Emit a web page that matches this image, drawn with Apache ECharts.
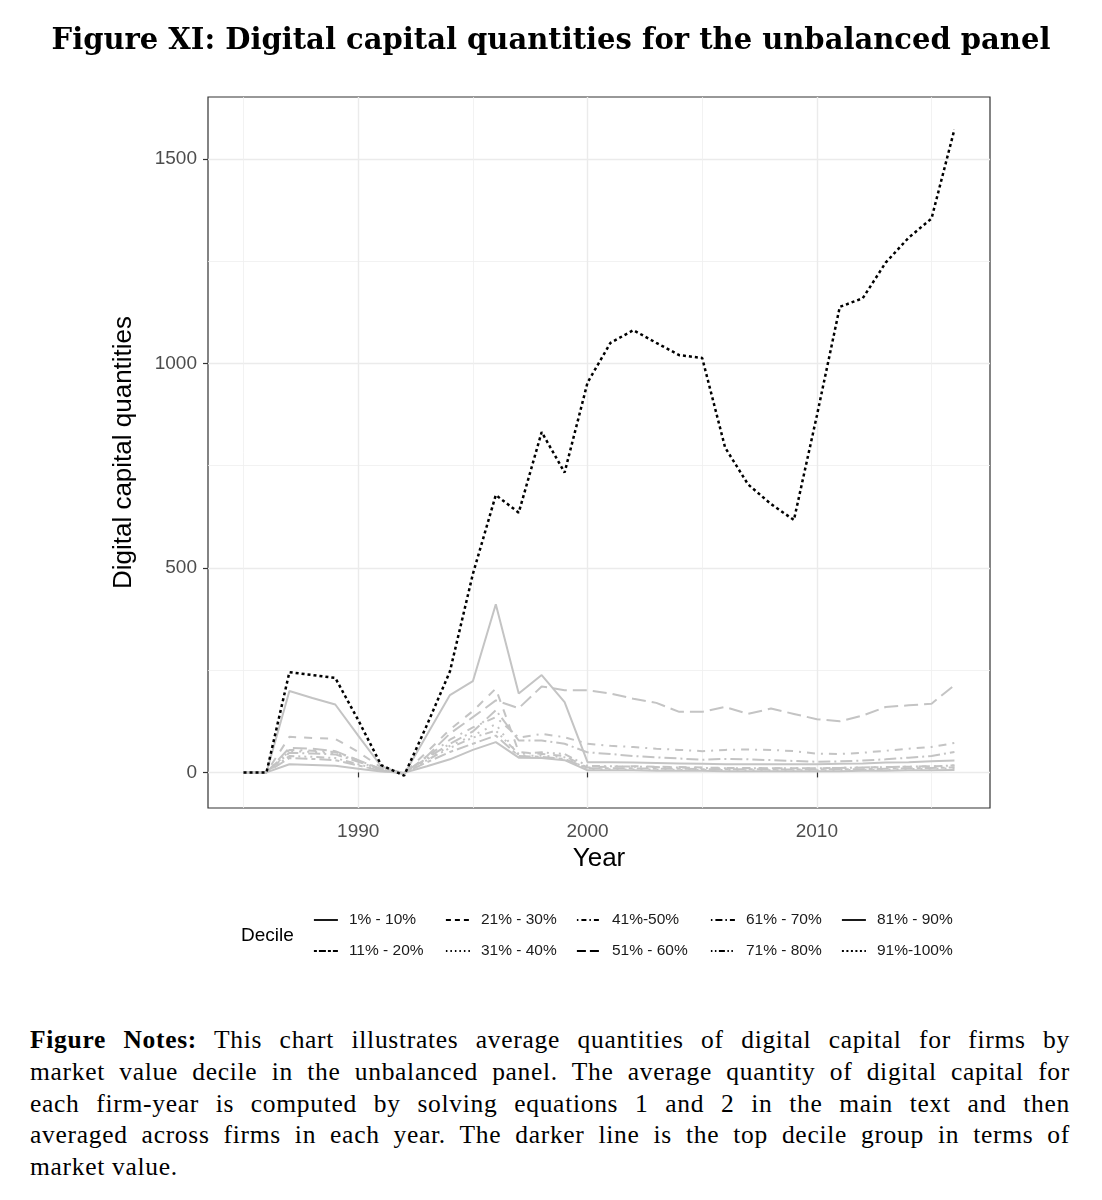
<!DOCTYPE html>
<html>
<head>
<meta charset="utf-8">
<title>Figure XI</title>
<script src="https://cdn.jsdelivr.net/npm/echarts@6/dist/echarts.min.js"></script>
<style>
  body { margin: 0; background: #fff; }
  #main { position: absolute; left: 0; top: 0; width: 1102px; height: 1000px; }
  #notes { position: absolute; left: 30px; top: 1024px; width: 1040px;
           font-family: 'Liberation Serif', serif; font-size: 25.5px; line-height: 31.8px;
           letter-spacing: 0.7px; color: #000; }
  #notes .j { text-align: justify; text-align-last: justify; white-space: nowrap; }
</style>
</head>
<body>
<div id="main"></div>
<div id="notes">
  <div class="j"><b>Figure Notes:</b> This chart illustrates average quantities of digital capital for firms by</div>
  <div class="j">market value decile in the unbalanced panel. The average quantity of digital capital for</div>
  <div class="j">each firm-year is computed by solving equations 1 and 2 in the main text and then</div>
  <div class="j">averaged across firms in each year. The darker line is the top decile group in terms of</div>
  <div>market value.</div>
</div>
<script type="text/javascript">
// data
var years = [1985, 1986, 1987, 1988, 1989, 1990, 1991, 1992, 1993, 1994, 1995, 1996, 1997, 1998, 1999, 2000,
             2001, 2002, 2003, 2004, 2005, 2006, 2007, 2008, 2009, 2010, 2011, 2012, 2013, 2014, 2015, 2016];
var deciles = ['1% - 10%', '11% - 20%', '21% - 30%', '31% - 40%', '41%-50%',
               '51% - 60%', '61% - 70%', '71% - 80%', '81% - 90%', '91%-100%'];
var d1  = [0, 0, 20, 18, 16, 9, 2, -1, 15, 32, 55, 74, 36, 35, 30, 5, 5, 5, 4, 4, 4, 3, 3, 3, 3, 3, 3, 4, 4, 5, 5, 6];
var d2  = [0, 0, 35, 33, 30, 17, 4, -2, 25, 50, 70, 90, 40, 38, 33, 10, 10, 10, 9, 9, 8, 8, 8, 7, 7, 7, 8, 8, 9, 10, 11, 12];
var d3  = [0, 0, 87, 84, 82, 50, 12, -2, 50, 105, 150, 205, 50, 45, 40, 12, 14, 15, 14, 13, 12, 11, 11, 10, 10, 10, 11, 12, 13, 14, 15, 17];
var d4  = [0, 0, 52, 50, 47, 28, 6, -2, 32, 65, 90, 118, 41, 41, 37, 8, 8, 7, 7, 6, 6, 6, 5, 5, 5, 5, 6, 6, 7, 8, 9, 10];
var d5  = [0, 0, 55, 53, 50, 30, 8, -2, 38, 80, 110, 135, 85, 94, 86, 70, 65, 62, 58, 55, 52, 55, 56, 55, 52, 46, 45, 48, 53, 58, 62, 72];
var d6  = [0, 0, 60, 58, 52, 30, 8, -3, 40, 95, 135, 176, 157, 210, 201, 201, 193, 180, 170, 148, 148, 160, 143, 156, 143, 130, 125, 139, 160, 164, 168, 213];
var d7  = [0, 0, 48, 46, 44, 26, 7, -2, 35, 70, 100, 152, 78, 78, 70, 49, 45, 40, 37, 34, 31, 33, 32, 30, 28, 26, 27, 29, 32, 36, 40, 50];
var d8  = [0, 0, 40, 38, 35, 20, 5, -2, 30, 60, 85, 102, 45, 49, 45, 16, 15, 14, 13, 12, 11, 10, 10, 10, 10, 10, 11, 12, 13, 14, 15, 17];
var d9  = [0, 0, 199, 182, 166, 90, 15, -5, 92, 189, 223, 411, 193, 238, 172, 25, 25, 24, 23, 22, 21, 20, 20, 20, 20, 20, 21, 22, 24, 25, 27, 29];
var d10 = [0, 0, 245, 238, 231, 128, 18, -8, 116, 247, 485, 678, 635, 832, 733, 953, 1050, 1081, 1050, 1020, 1013, 794, 704, 656, 617, 872, 1138, 1159, 1246, 1307, 1354, 1572];
var xTicks = [1990, 2000, 2010];
var xMinorTicks = [1985, 1995, 2005, 2015];
var yTicks = [0, 500, 1000, 1500];
var yMinorTicks = [250, 750, 1250];

var allData = [d1, d2, d3, d4, d5, d6, d7, d8, d9, d10];
// linetypes, roughly like the R ones
var dashes = ['solid', [4, 4, 12, 4], [8, 8], [2, 6], [2, 6, 8, 6], [14, 6],
              [2, 4, 12, 4], [2, 4, 2, 4, 2, 4, 8, 4], 'solid', [3, 3]];
var legendDashes = ['solid', [3, 2, 7, 2], [5, 4], [1.5, 3], [1.5, 3, 5, 3], [9, 4],
                    [1.5, 3, 7, 3], [1.5, 2.5, 1.5, 2.5, 6, 2.5], 'solid', [2, 2.5]];

var myChart = echarts.init(document.getElementById('main'));

var series = [];
for (var i = 0; i < deciles.length; i++) {
    var isTop = (i === 9);
    var col = isTop ? '#000' : '#c4c4c4';
    series.push({
        name: deciles[i],
        type: 'line',
        symbol: 'none',
        z: isTop ? 5 : 3,
        color: col,
        lineStyle: {
            color: col,
            width: isTop ? 2.5 : 2,
            type: dashes[i]
        },
        data: years.map(function (y, k) { return [y, allData[i][k]]; })
    });
}

// legend: 5 columns x 2 rows, filled column by column
var colLeft = [308, 440, 571, 705, 836];
var legends = [];
for (var c = 0; c < 5; c++) {
    var items = [];
    for (var r = 0; r < 2; r++) {
        var idx = c * 2 + r;
        items.push({
            name: deciles[idx],
            lineStyle: { color: '#000', width: 1.8, type: legendDashes[idx] },
            itemStyle: { opacity: 0 }
        });
    }
    legends.push({
        orient: 'vertical',
        left: colLeft[c],
        top: 907,
        itemWidth: 24,
        itemHeight: 14,
        itemGap: 15,
        selectedMode: false,
        textStyle: { fontFamily: 'Liberation Sans', fontSize: 15.5, color: '#1a1a1a', padding: [0, 0, 0, 6] },
        data: items
    });
}

var axisFont = 'Liberation Sans';

myChart.setOption({
    animation: false,
    backgroundColor: '#fff',
    title: {
        text: 'Figure XI: Digital capital quantities for the unbalanced panel',
        left: 'center',
        top: 22,
        textStyle: { fontFamily: 'DejaVu Serif', fontWeight: 'bold', fontSize: 29, color: '#000' }
    },
    legend: legends,
    graphic: [{
        type: 'text',
        left: 241,
        top: 926,
        style: { text: 'Decile', font: '19px "Liberation Sans"', fill: '#000' }
    }],
    grid: {
        left: 208, top: 97, width: 782, height: 711,
        show: true, borderColor: '#333', borderWidth: 1.2, backgroundColor: '#fff'
    },
    xAxis: [{
        type: 'value',
        min: 1983.45, max: 2017.55,
        name: 'Year',
        nameLocation: 'middle',
        nameGap: 37,
        nameTextStyle: { fontFamily: axisFont, fontSize: 26, color: '#000' },
        axisLine: { show: false },
        axisTick: { show: true, length: 5, lineStyle: { color: '#333', width: 1.2 }, customValues: xTicks },
        axisLabel: { customValues: xTicks, margin: 14, fontFamily: axisFont, fontSize: 19, color: '#4d4d4d',
                     formatter: function (v) { return String(v); } },
        splitLine: { show: true, lineStyle: { color: '#ebebeb', width: 1.4 } }
    }, {
        type: 'value',
        min: 1983.45, max: 2017.55,
        axisLine: { show: false },
        axisTick: { show: false, customValues: xMinorTicks },
        axisLabel: { show: false, customValues: xMinorTicks },
        splitLine: { show: true, lineStyle: { color: '#efefef', width: 0.8 } }
    }],
    yAxis: [{
        type: 'value',
        min: -87, max: 1651,
        name: 'Digital capital quantities',
        nameLocation: 'middle',
        nameGap: 71,
        nameTextStyle: { fontFamily: axisFont, fontSize: 26, color: '#000' },
        axisLine: { show: false },
        axisTick: { show: true, length: 5, lineStyle: { color: '#333', width: 1.2 }, customValues: yTicks },
        axisLabel: { customValues: yTicks, margin: 11, fontFamily: axisFont, fontSize: 19, color: '#4d4d4d',
                     formatter: function (v) { return String(v); } },
        splitLine: { show: true, lineStyle: { color: '#ebebeb', width: 1.4 } }
    }, {
        type: 'value',
        min: -87, max: 1651,
        axisLine: { show: false },
        axisTick: { show: false, customValues: yMinorTicks },
        axisLabel: { show: false, customValues: yMinorTicks },
        splitLine: { show: true, lineStyle: { color: '#efefef', width: 0.8 } }
    }],
    series: series
});
</script>
</body>
</html>
